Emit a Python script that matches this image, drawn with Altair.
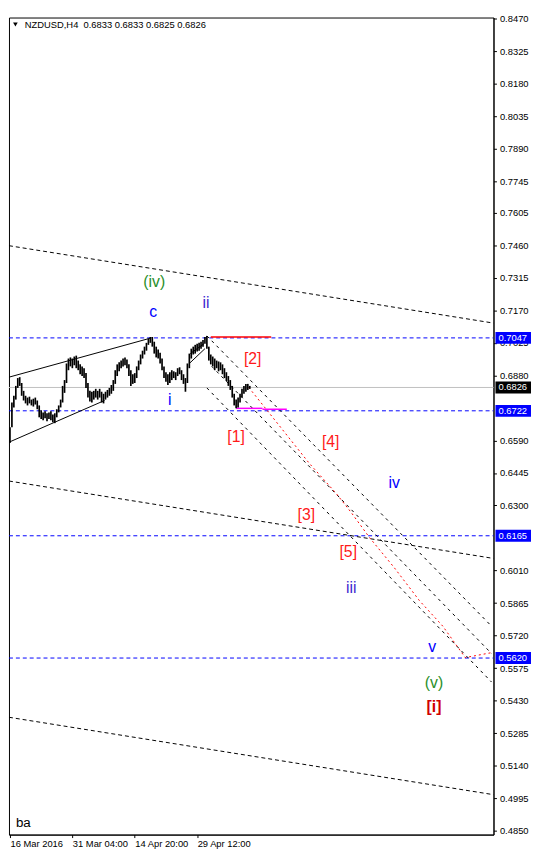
import altair as alt
import pandas as pd

# ---------------- data ----------------
header_text = "NZDUSD,H4\u00a0\u00a00.6833 0.6833 0.6825 0.6826"
corner_text = "ba"

# H4 bars (every second bar): bar index, low, high
bar_idx = list(range(0, 248, 2))
bar_low = [0.6579, 0.6649, 0.6737, 0.6772, 0.6824, 0.6833, 0.6789, 0.6768, 0.6755, 0.6746,
           0.6755, 0.6746, 0.6741, 0.6750, 0.6729, 0.6693, 0.6685, 0.6680, 0.6689, 0.6676,
           0.6685, 0.6680, 0.6671, 0.6667, 0.6693, 0.6715, 0.6737, 0.6759, 0.6802, 0.6846,
           0.6903, 0.6920, 0.6912, 0.6925, 0.6912, 0.6903, 0.6885, 0.6877, 0.6868, 0.6824,
           0.6781, 0.6763, 0.6759, 0.6772, 0.6781, 0.6772, 0.6781, 0.6759, 0.6755, 0.6772,
           0.6781, 0.6789, 0.6798, 0.6811, 0.6842, 0.6877, 0.6898, 0.6912, 0.6920, 0.6925,
           0.6912, 0.6877, 0.6833, 0.6842, 0.6846, 0.6868, 0.6903, 0.6929, 0.6955, 0.6973,
           0.6990, 0.7016, 0.7025, 0.7008, 0.6977, 0.6960, 0.6955, 0.6933, 0.6903, 0.6868,
           0.6851, 0.6837, 0.6846, 0.6859, 0.6868, 0.6859, 0.6877, 0.6885, 0.6859, 0.6842,
           0.6807, 0.6846, 0.6912, 0.6955, 0.6973, 0.6977, 0.6986, 0.6990, 0.6999, 0.7008,
           0.7021, 0.6999, 0.6946, 0.6929, 0.6920, 0.6903, 0.6912, 0.6898, 0.6903, 0.6885,
           0.6868, 0.6855, 0.6833, 0.6815, 0.6781, 0.6746, 0.6733, 0.6737, 0.6759, 0.6781,
           0.6798, 0.6807, 0.6815, 0.6820]
bar_high = [0.6649, 0.6759, 0.6789, 0.6833, 0.6868, 0.6872, 0.6846, 0.6811, 0.6789, 0.6781,
            0.6785, 0.6772, 0.6776, 0.6781, 0.6768, 0.6746, 0.6724, 0.6715, 0.6720, 0.6711,
            0.6715, 0.6720, 0.6706, 0.6711, 0.6729, 0.6746, 0.6772, 0.6833, 0.6859, 0.6933,
            0.6955, 0.6960, 0.6955, 0.6964, 0.6968, 0.6946, 0.6929, 0.6920, 0.6912, 0.6890,
            0.6846, 0.6811, 0.6807, 0.6811, 0.6820, 0.6811, 0.6820, 0.6807, 0.6798, 0.6807,
            0.6815, 0.6824, 0.6837, 0.6859, 0.6903, 0.6929, 0.6938, 0.6946, 0.6955, 0.6960,
            0.6951, 0.6929, 0.6903, 0.6885, 0.6890, 0.6920, 0.6946, 0.6973, 0.6990, 0.7008,
            0.7025, 0.7043, 0.7051, 0.7051, 0.7030, 0.7008, 0.6995, 0.6981, 0.6955, 0.6920,
            0.6894, 0.6885, 0.6894, 0.6903, 0.6898, 0.6894, 0.6912, 0.6916, 0.6903, 0.6885,
            0.6868, 0.6933, 0.6977, 0.6999, 0.7008, 0.7016, 0.7021, 0.7025, 0.7030, 0.7038,
            0.7051, 0.7056, 0.7008, 0.6973, 0.6964, 0.6955, 0.6946, 0.6942, 0.6938, 0.6929,
            0.6912, 0.6894, 0.6877, 0.6859, 0.6833, 0.6798, 0.6772, 0.6781, 0.6798, 0.6820,
            0.6833, 0.6842, 0.6842, 0.6833]

# time axis labels (bar index -> label)
time_tick_idx = [0, 64, 128, 192]
time_tick_lbl = ["16 Mar 2016", "31 Mar 04:00", "14 Apr 20:00", "29 Apr 12:00"]

# price axis ticks
price_ticks = [0.4850, 0.4995, 0.5140, 0.5285, 0.5430, 0.5575, 0.5720, 0.5865, 0.6010,
               0.6300, 0.6445, 0.6590, 0.6880, 0.7025, 0.7170, 0.7315, 0.7460,
               0.7605, 0.7745, 0.7890, 0.8035, 0.8180, 0.8325, 0.8470]

# horizontal levels
level_blue = [0.7047, 0.6722, 0.6165, 0.5620]
current_price = [0.6826]

# price boxes on the right axis
box_price = [0.7047, 0.6826, 0.6722, 0.6165, 0.5620]
box_color = ["#0000FF", "#000000", "#0000FF", "#0000FF", "#0000FF"]
box_label = ["0.7047", "0.6826", "0.6722", "0.6165", "0.5620"]

# long dashed trend lines
trend_x1 = [-1, -1, -1]
trend_p1 = [0.7458, 0.6409, 0.5356]
trend_x2 = [496, 496, 496]
trend_p2 = [0.7113, 0.6064, 0.5011]

# falling channel (fine dashes)
chan_x1 = [202, 207, 202]
chan_p1 = [0.7056, 0.6920, 0.6824]
chan_x2 = [494, 494, 494]
chan_p2 = [0.5762, 0.5640, 0.5513]

# solid wedge lines
wedge_x1 = [-1, 0, 184, 185]
wedge_p1 = [0.6872, 0.6584, 0.6933, 0.6977]
wedge_x2 = [145, 97, 200, 199]
wedge_p2 = [0.7047, 0.6768, 0.6999, 0.7021]

# red projected path
proj_x = [245, 259, 279, 307, 334, 350, 369, 394, 420, 444, 467, 494]
proj_p = [0.6826, 0.6750, 0.6641, 0.6488, 0.6357, 0.6269, 0.6156, 0.6024, 0.5876, 0.5762, 0.5622, 0.5644]

# short level segments
red_seg_x1, red_seg_x2, red_seg_p = [206], [268], [0.7051]
mag_seg_x1 = [232, 259]
mag_seg_x2 = [259, 284]
mag_seg_p = [0.6733, 0.6729]

# wave labels
wave_text = ["(iv)", "c", "ii", "i", "[2]", "[1]", "[4]", "[3]", "[5]", "iv", "iii", "v", "(v)"]
wave_x = [148, 147, 201, 164, 249, 232, 329, 304, 347, 394, 350, 433, 435]
wave_p = [0.7274, 0.7139, 0.7182, 0.6750, 0.6929, 0.6584, 0.6562, 0.6234, 0.6072, 0.6378, 0.5911, 0.5649, 0.5487]
wave_color = ["#2A8F2A", "#0000FF", "#3D1FD0", "#0000FF", "#FF1A1A", "#FF1A1A", "#FF1A1A",
              "#FF1A1A", "#FF1A1A", "#0000FF", "#3D1FD0", "#0000FF", "#2A8F2A"]
big_text, big_x, big_p = ["[i]"], [435], [0.5378]

# ---------------- chart ----------------
FONT = "Liberation Sans"
XS = alt.Scale(domain=[-1, 496], nice=False, zero=False)
YS = alt.Scale(domain=[0.4833, 0.8475], nice=False, zero=False)

lbl_expr = " : ".join(
    f"datum.value == {v} ? '{t}'" for v, t in zip(time_tick_idx[:-1], time_tick_lbl[:-1])
) + f" : '{time_tick_lbl[-1]}'"

x_axis = alt.Axis(values=time_tick_idx, labelExpr=lbl_expr, grid=False, tickSize=3,
                  labelPadding=1, labelAlign="left", labelFlush=False, labelOverlap=False,
                  labelFont=FONT, labelFontSize=9.5, labelColor="black", tickColor="black",
                  domainColor="black", title=None)
y_axis = alt.Axis(values=price_ticks, format=".4f", orient="right", grid=False, tickSize=3,
                  labelPadding=3, labelFont=FONT, labelFontSize=9.5, labelColor="black",
                  tickColor="black", domainColor="black", labelOverlap=False, labelFlush=False,
                  title=None)


def X(f):
    return alt.X(f, type="quantitative", scale=XS, axis=x_axis)


def Y(f):
    return alt.Y(f, type="quantitative", scale=YS, axis=y_axis)


bars = alt.Chart(pd.DataFrame({"x": bar_idx, "lo": bar_low, "hi": bar_high})).mark_rule(
    color="black", strokeWidth=1.7
).encode(x=X("x"), y=Y("lo"), y2=alt.Y2("hi"))

full_x1, full_x2 = -1, 496
blue_df = pd.DataFrame({"x": [full_x1] * len(level_blue), "x2": [full_x2] * len(level_blue), "p": level_blue})
blue_lines = alt.Chart(blue_df).mark_rule(color="#0000FF", strokeDash=[4, 3], strokeWidth=1).encode(
    x=X("x"), x2=alt.X2("x2"), y=Y("p"))

cur_df = pd.DataFrame({"x": [full_x1], "x2": [full_x2], "p": current_price})
cur_line = alt.Chart(cur_df).mark_rule(color="#C0C0C0", strokeWidth=1).encode(
    x=X("x"), x2=alt.X2("x2"), y=Y("p"))

trend_df = pd.DataFrame({"x": trend_x1, "p": trend_p1, "x2": trend_x2, "p2": trend_p2})
trends = alt.Chart(trend_df).mark_rule(color="black", strokeDash=[4, 3], strokeWidth=1).encode(
    x=X("x"), y=Y("p"), x2=alt.X2("x2"), y2=alt.Y2("p2"))

chan_df = pd.DataFrame({"x": chan_x1, "p": chan_p1, "x2": chan_x2, "p2": chan_p2})
chans = alt.Chart(chan_df).mark_rule(color="black", strokeDash=[3, 4], strokeWidth=1).encode(
    x=X("x"), y=Y("p"), x2=alt.X2("x2"), y2=alt.Y2("p2"))

wedge_df = pd.DataFrame({"x": wedge_x1, "p": wedge_p1, "x2": wedge_x2, "p2": wedge_p2})
wedges = alt.Chart(wedge_df).mark_rule(color="black", strokeWidth=1).encode(
    x=X("x"), y=Y("p"), x2=alt.X2("x2"), y2=alt.Y2("p2"))

proj_df = pd.DataFrame({"x": proj_x, "p": proj_p})
proj = alt.Chart(proj_df).mark_line(color="#FF0000", strokeDash=[2, 3], strokeWidth=1).encode(
    x=X("x"), y=Y("p"))

red_df = pd.DataFrame({"x": red_seg_x1, "x2": red_seg_x2, "p": red_seg_p})
red_seg = alt.Chart(red_df).mark_rule(color="#FF0000", strokeWidth=1.5).encode(
    x=X("x"), x2=alt.X2("x2"), y=Y("p"))

mag_df = pd.DataFrame({"x": mag_seg_x1, "x2": mag_seg_x2, "p": mag_seg_p})
mag_seg = alt.Chart(mag_df).mark_rule(color="#FF00FF", strokeWidth=1.5).encode(
    x=X("x"), x2=alt.X2("x2"), y=Y("p"))

wave_df = pd.DataFrame({"t": wave_text, "x": wave_x, "p": wave_p, "c": wave_color})
waves = alt.Chart(wave_df).mark_text(font=FONT, fontSize=16, baseline="alphabetic", align="center").encode(
    x=X("x"), y=Y("p"), text="t:N", color=alt.Color("c:N", scale=None))

big_df = pd.DataFrame({"t": big_text, "x": big_x, "p": big_p})
big = alt.Chart(big_df).mark_text(font=FONT, fontSize=16, fontWeight="bold", baseline="alphabetic",
                                  align="center", color="#D00000").encode(
    x=X("x"), y=Y("p"), text="t:N")

box_df = pd.DataFrame({"p": box_price, "c": box_color, "t": box_label})
boxes = alt.Chart(box_df).mark_rect(yOffset=-6, y2Offset=6).encode(
    x=alt.value(493), x2=alt.value(529), y=Y("p"), y2=alt.Y2("p"),
    color=alt.Color("c:N", scale=None))
box_txt = alt.Chart(box_df).mark_text(font=FONT, fontSize=9.5, align="left", baseline="middle",
                                      color="white").encode(
    x=alt.value(496), y=Y("p"), text="t:N")

head = alt.Chart(pd.DataFrame({"t": [header_text]})).mark_text(
    font=FONT, fontSize=9.5, align="left", baseline="middle", color="black").encode(
    x=alt.value(16), y=alt.value(7.5), text="t:N")
tri = alt.Chart(pd.DataFrame({"t": [header_text]})).mark_point(
    shape="triangle-down", filled=True, color="black", size=22, opacity=1).encode(
    x=alt.value(6.5), y=alt.value(7))
corner = alt.Chart(pd.DataFrame({"t": [corner_text]})).mark_text(
    font=FONT, fontSize=13.5, align="left", baseline="alphabetic", color="black").encode(
    x=alt.value(7), y=alt.value(820), text="t:N")

chart = alt.layer(
    cur_line, blue_lines, trends, chans, wedges, proj, red_seg, mag_seg,
    bars, waves, big, boxes, box_txt, head, tri, corner
).properties(
    width=491, height=828, padding={"left": 0, "top": 0, "right": 0, "bottom": 0},
    background="white"
).configure_view(stroke="black", strokeWidth=1)

chart.save("out.html", embed_options={"renderer": "svg", "actions": False})
